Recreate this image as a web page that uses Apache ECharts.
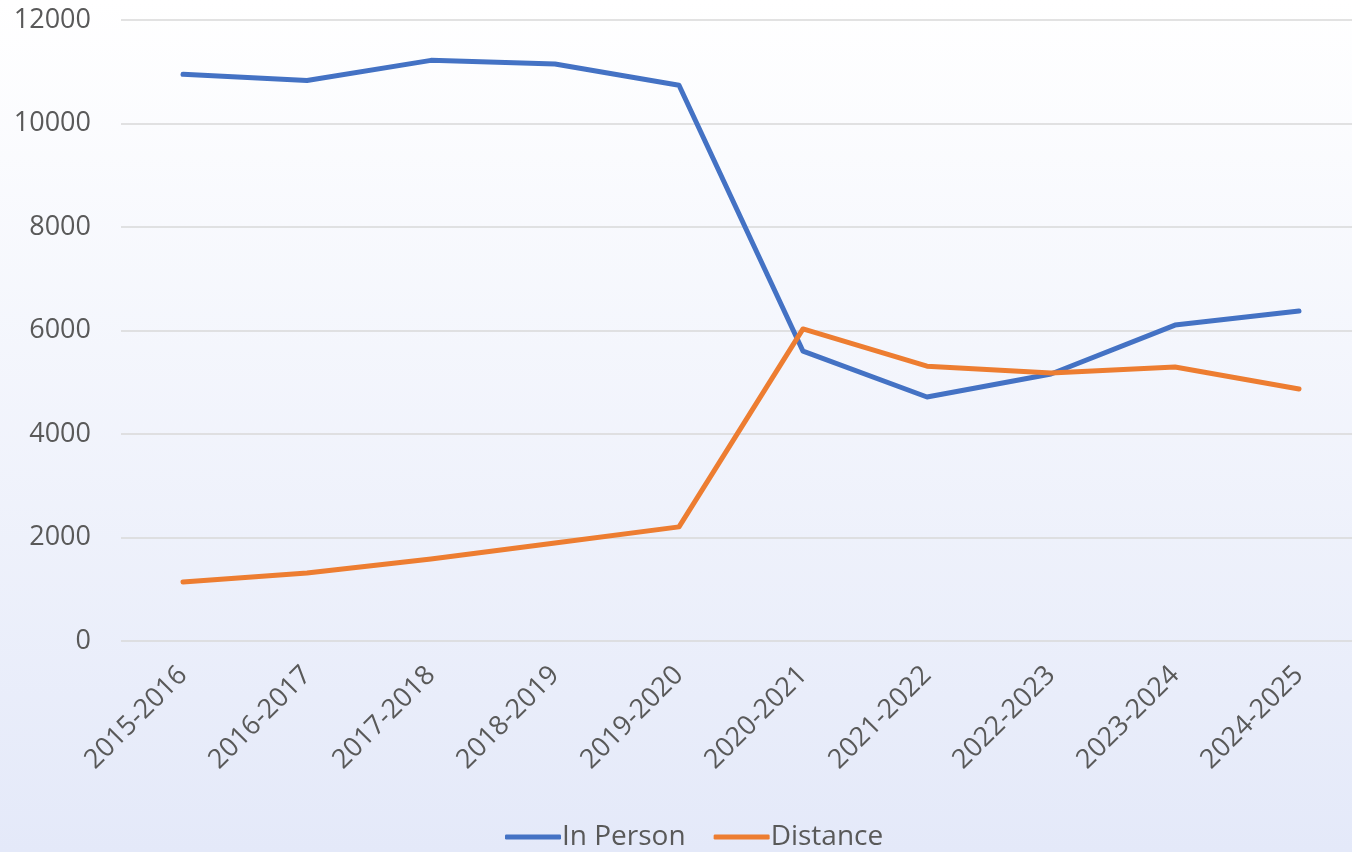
<!DOCTYPE html>
<html>
<head>
<meta charset="utf-8">
<script src="https://cdn.jsdelivr.net/npm/echarts@6/dist/echarts.min.js"></script>
<style>
  html, body { margin: 0; padding: 0; }
  #chart { width: 1352px; height: 852px; }
</style>
</head>
<body>
<div id="chart"></div>
<script>
const years = ['2015-2016', '2016-2017', '2017-2018', '2018-2019', '2019-2020',
  '2020-2021', '2021-2022', '2022-2023', '2023-2024', '2024-2025'];
const inPerson = [10950, 10830, 11220, 11150, 10740, 5600, 4715, 5160, 6105, 6375];
const distance = [1140, 1315, 1585, 1895, 2205, 6030, 5310, 5180, 5295, 4870];

const font = '"Open Sans", "Noto Sans", sans-serif';
const chart = echarts.init(document.getElementById('chart'));

chart.setOption({
  backgroundColor: new echarts.graphic.LinearGradient(0, 0, 0, 1, [
    {offset: 0, color: '#ffffff'},
    {offset: 1, color: '#e4e9f9'}
  ]),
  animation: false,
  grid: {left: 121, width: 1240, top: 20, bottom: 211, outerBoundsMode: 'none', containLabel: false},
  legend: {
    bottom: -4,
    left: 500,
    itemWidth: 56,
    itemHeight: 5,
    itemGap: 28,
    icon: 'roundRect',
    textStyle: {fontFamily: font, fontSize: 28, color: '#595959', padding: [0, 0, 0, -4]},
    data: ['In Person', 'Distance']
  },
  xAxis: {
    type: 'category',
    data: years,
    axisLine: {show: false},
    axisTick: {show: false},
    axisLabel: {
      rotate: 45,
      margin: 30,
      fontFamily: font,
      fontSize: 27,
      color: '#595959'
    }
  },
  yAxis: {
    type: 'value',
    min: 0,
    max: 12000,
    interval: 2000,
    axisLine: {show: false},
    axisTick: {show: false},
    axisLabel: {
      fontFamily: font,
      fontSize: 27,
      color: '#595959',
      margin: 30,
      formatter: v => String(v)
    },
    splitLine: {lineStyle: {color: '#d9d9d9', width: 1.5}}
  },
  series: [
    {
      name: 'In Person',
      type: 'line',
      data: inPerson,
      symbol: 'none',
      color: '#4472c4',
      lineStyle: {width: 5, cap: 'round', join: 'round'}
    },
    {
      name: 'Distance',
      type: 'line',
      data: distance,
      symbol: 'none',
      color: '#ed7d31',
      lineStyle: {width: 5, cap: 'round', join: 'round'}
    }
  ]
});
</script>
</body>
</html>
